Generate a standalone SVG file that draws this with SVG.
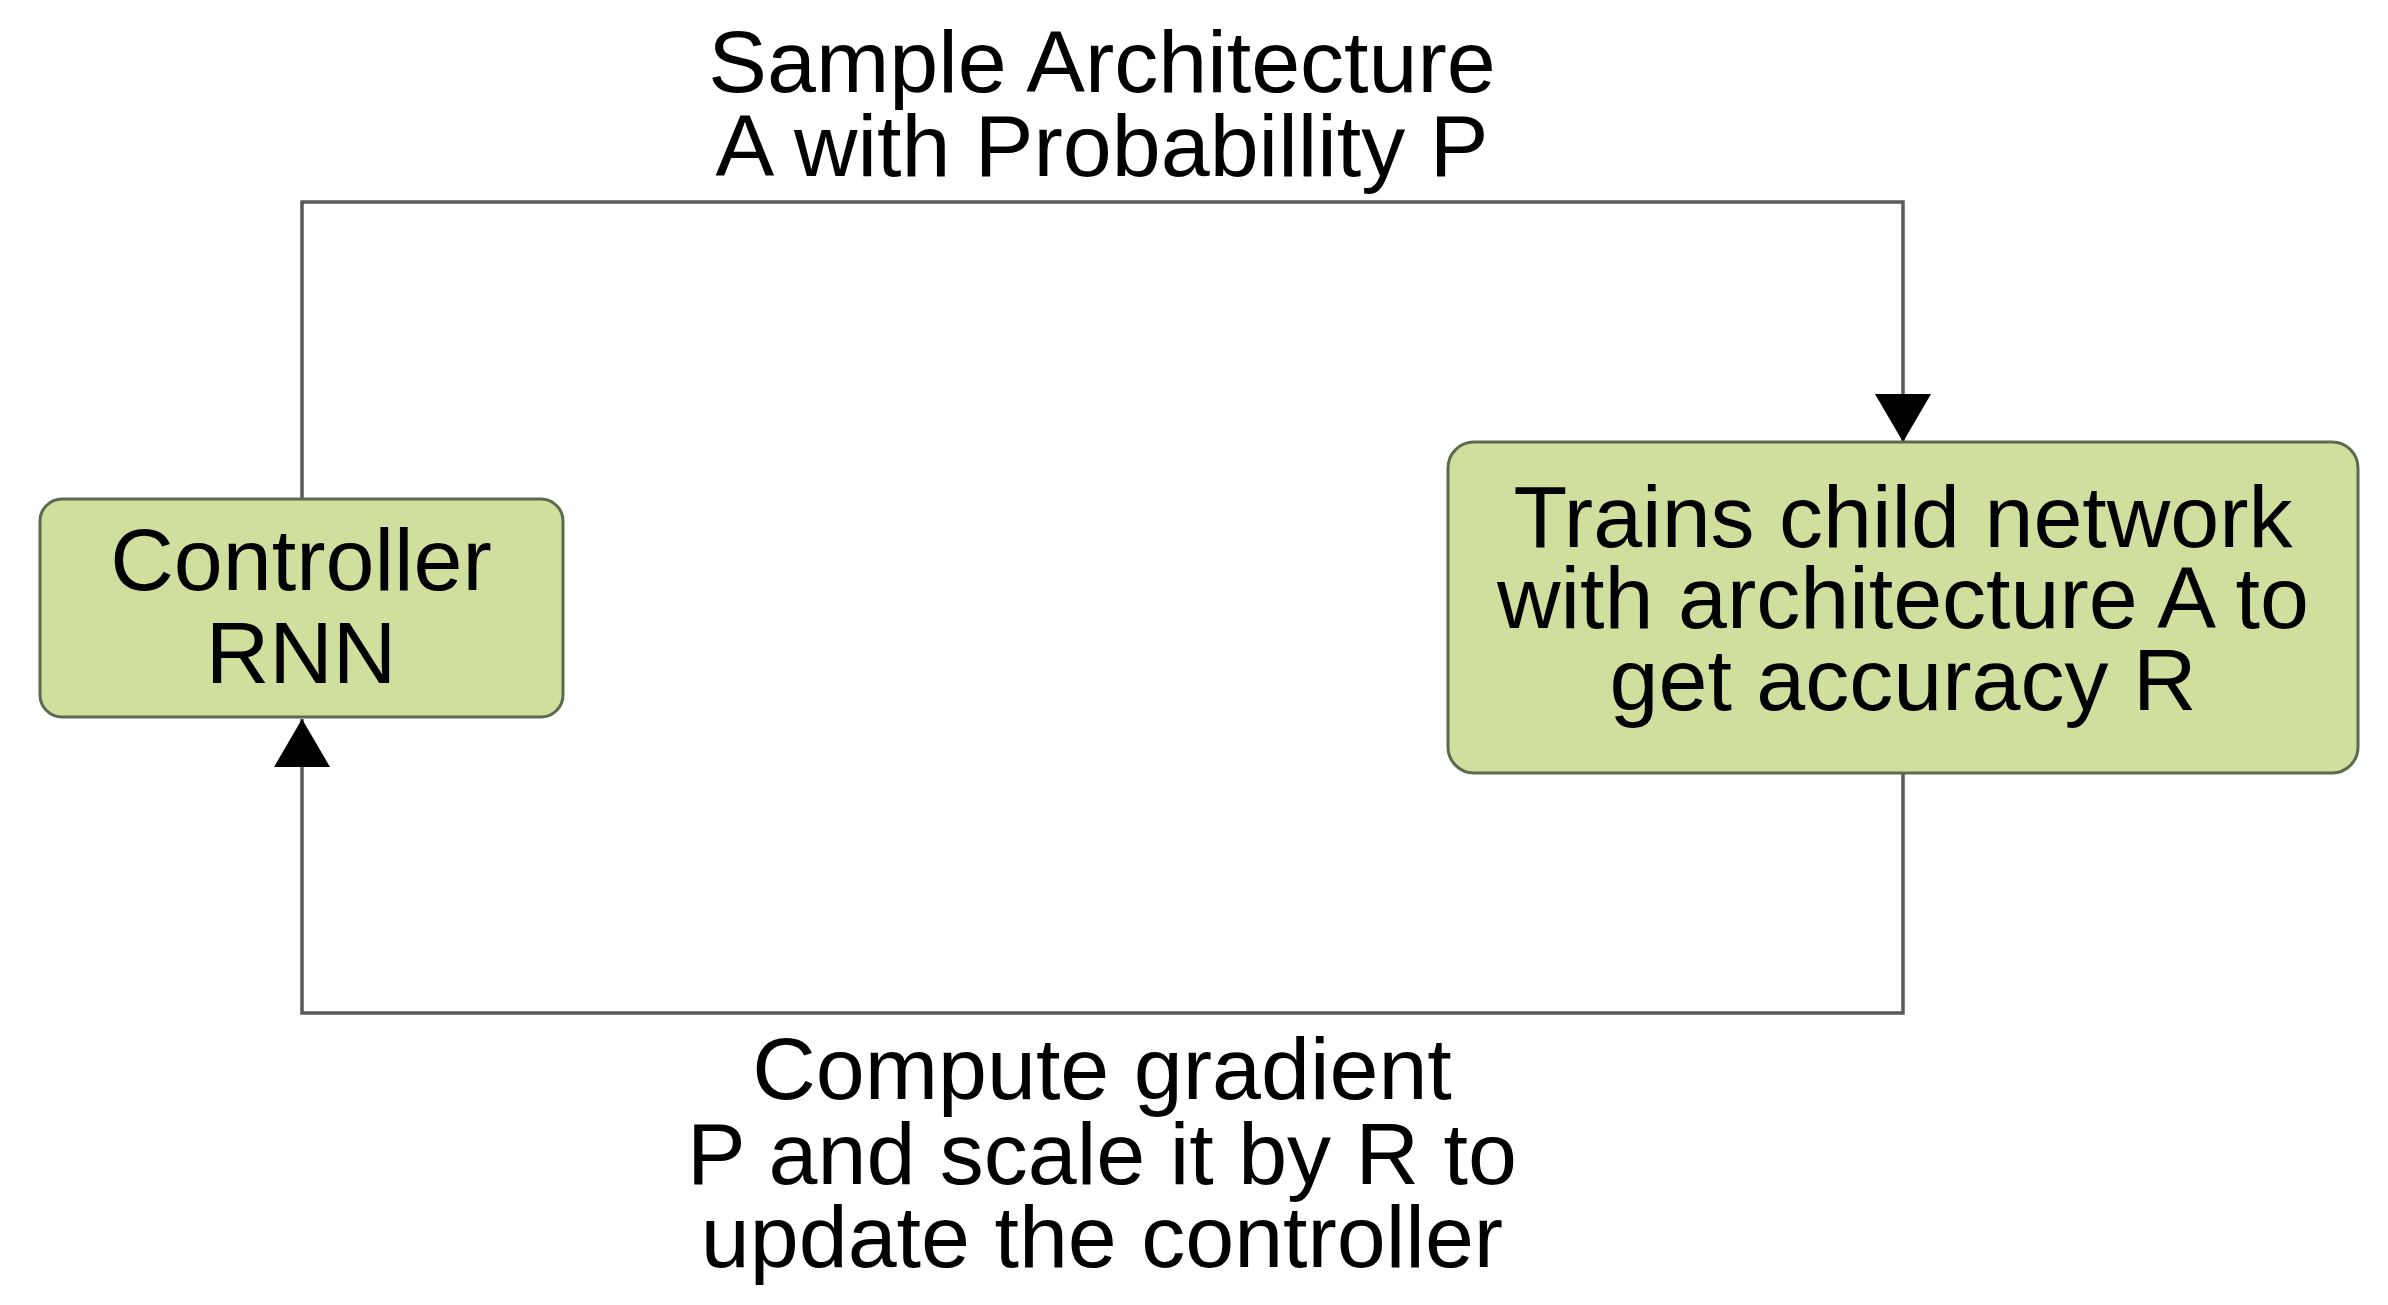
<svg xmlns="http://www.w3.org/2000/svg" width="2388" height="1305" viewBox="0 0 2388 1305">
<style>
.node rect{fill:#d0de9e;stroke:#5c6b4c;stroke-width:3}
.lbl{font-family:"Liberation Sans",Arial,sans-serif;font-size:88px;fill:#000;text-anchor:middle}
.conn{fill:none;stroke:#5a5a5a;stroke-width:3.5}
</style>
<defs>
<marker id="arr" markerUnits="userSpaceOnUse" markerWidth="50" markerHeight="58" refX="48" refY="28" orient="auto" viewBox="0 0 50 58">
<path d="M0,0 L48,28 L0,56 z" fill="#000"/>
</marker>
</defs>
<rect width="2388" height="1305" fill="#fff"/>
<g id="connectors">
<path class="conn" d="M302,499 V202 H1903 V442" marker-end="url(#arr)"/>
<path class="conn" d="M1903,773 V1013 H302 V719" marker-end="url(#arr)"/>
</g>
<g id="label-top">
<text class="lbl" x="1102" y="92">Sample Architecture</text>
<text class="lbl" x="1102" y="176">A with Probabillity P</text>
</g>
<g id="label-bottom">
<text class="lbl" x="1102" y="1099">Compute gradient</text>
<text class="lbl" x="1102" y="1184">P and scale it by R to</text>
<text class="lbl" x="1102" y="1267">update the controller</text>
</g>
<g id="controller" class="node">
<rect x="40" y="499" width="523" height="218" rx="22"/>
<text class="lbl" x="301" y="590">Controller</text>
<text class="lbl" x="301" y="683">RNN</text>
</g>
<g id="child" class="node">
<rect x="1448" y="442" width="910" height="331" rx="26"/>
<text class="lbl" x="1903" y="547">Trains child network</text>
<text class="lbl" x="1903" y="628">with architecture A to</text>
<text class="lbl" x="1903" y="710">get accuracy R</text>
</g>
</svg>
